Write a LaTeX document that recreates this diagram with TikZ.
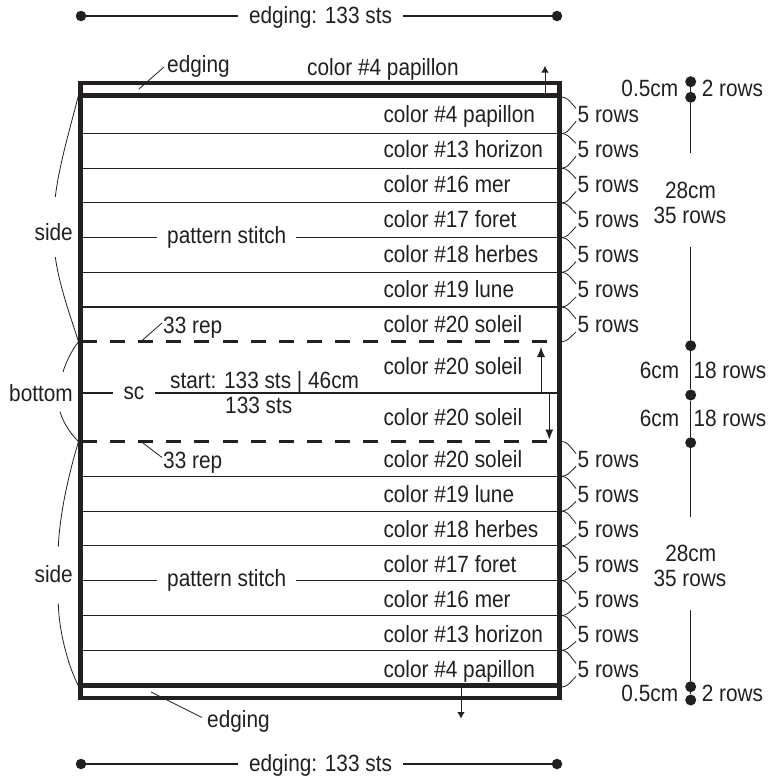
\documentclass[tikz,border=0pt]{standalone}
\usepackage{fontspec}
\setmainfont{Liberation Sans}[FakeStretch=0.885]
\usetikzlibrary{arrows.meta}
\definecolor{ink}{HTML}{231F20}
\begin{document}
\begin{tikzpicture}[x=1pt,y=-1pt,
  lab/.style={inner sep=0pt, font=\fontsize{23.5}{28}\selectfont, text=ink},
  rowline/.style={line width=1.1pt, draw=ink},
  fine/.style={line width=0.8pt, draw=ink},
  edgeline/.style={line width=4.5pt, draw=ink},
  dashline/.style={line width=2.5pt, draw=ink, dash pattern=on 15pt off 13.1pt},
  dimdot/.style={circle, fill=ink, inner sep=0pt, minimum size=11pt},
  bigtip/.style={-{Latex[length=10pt,width=8pt]}},
  smalltip/.style={-{Latex[length=6.5pt,width=7.5pt]}}]
\useasboundingbox (0,0) rectangle (768,782);

% ---------- top and bottom dimension lines ----------
\node[dimdot, minimum size=10.5pt] (dTL) at (81,16) {};
\node[dimdot, minimum size=10.5pt] (dTR) at (557,16) {};
\node[lab, anchor=base, inner xsep=11pt] (eTop) at (320.5,23.5) {edging: 133 sts};
\draw[rowline] (dTL) -- (dTL -| eTop.west);
\draw[rowline] (eTop.east |- dTR) -- (dTR);

\node[dimdot, minimum size=10.5pt] (dBL) at (81,764) {};
\node[dimdot, minimum size=10.5pt] (dBR) at (557,764) {};
\node[lab, anchor=base, inner xsep=11pt] (eBot) at (320.5,771.7) {edging: 133 sts};
\draw[rowline] (dBL) -- (dBL -| eBot.west);
\draw[rowline] (eBot.east |- dBR) -- (dBR);

% ---------- row lines ----------
\foreach \y in {133.5,168.2,202.9,237.6,272.3,307,476.3,511.1,545.9,580.7,615.5,650.3}
  \draw[rowline] (80.5,\y) -- (559.5,\y);
\draw[dashline] (82,341.7) -- (558,341.7);
\draw[dashline] (82,441.5) -- (558,441.5);
\draw[line width=2.2pt, draw=ink] (80.5,392.7) -- (559.5,392.7);

% ---------- frame ----------
\draw[edgeline, line join=miter] (80.5,83) rectangle (559.5,698);
\draw[edgeline] (80.5,95.3) -- (559.5,95.3);
\draw[edgeline] (80.5,685.5) -- (559.5,685.5);

% ---------- colour rows and 5-row brackets ----------
\foreach \a/\b/\bl/\t [count=\i] in {
  97/133.5/122.3/{color \#4 papillon},
  133.5/168.2/157.4/{color \#13 horizon},
  168.2/202.9/192.5/{color \#16 mer},
  202.9/237.6/227.6/{color \#17 foret},
  237.6/272.3/262.7/{color \#18 herbes},
  272.3/307/297.8/{color \#19 lune},
  307/341.7/332.9/{color \#20 soleil},
  441.5/476.3/467.5/{color \#20 soleil},
  476.3/511.1/502.5/{color \#19 lune},
  511.1/545.9/537.5/{color \#18 herbes},
  545.9/580.7/572.5/{color \#17 foret},
  580.7/615.5/607.5/{color \#16 mer},
  615.5/650.3/642.5/{color \#13 horizon},
  650.3/687/677.5/{color \#4 papillon}}
{
  \node[lab, anchor=base west] (col\i) at (383.3,\bl) {\t};
  \node[lab, anchor=base west] (rows\i) at (577.5,\bl) {5 rows};
  \coordinate (bt\i) at (562,\a);
  \coordinate (bb\i) at (562,\b);
  \draw[fine] (bt\i) .. controls (567,\a+1) .. (576,\bl-14);
  \draw[fine] (576,\bl-1) .. controls (567,\b-1) .. (bb\i);
}

% ---------- middle section ----------
\node[lab, anchor=base west] (mid1) at (383.3,374) {color \#20 soleil};
\node[lab, anchor=base west] (mid2) at (383.3,425) {color \#20 soleil};
\coordinate (upA) at (541,392.7);
\coordinate (upB) at (541,347);
\coordinate (dnA) at (549.3,392.7);
\coordinate (dnB) at (549.3,439.5);
\draw[fine, bigtip] (upA) -- (upB);
\draw[fine, bigtip] (dnA) -- (dnB);
\node[lab, anchor=base west, fill=white, inner xsep=10.5pt, inner ysep=1.5pt] (sc) at (112.8,399.3) {sc};
\node[lab, anchor=base west] (start) at (170,388.3) {start: 133 sts | 46cm};
\node[lab, anchor=base west] (sts) at (225,413.3) {133 sts};

% ---------- top and bottom edging labels ----------
\node[lab, anchor=base west] (edgT) at (167,72) {edging};
\coordinate (edgTp) at (139,89);
\draw[fine] (edgTp) -- (164,67);
\node[lab, anchor=base west] (papT) at (307,75) {color \#4 papillon};
\coordinate (arTa) at (545,95.3);
\coordinate (arTb) at (545,66);
\draw[fine, smalltip] (arTa) -- (arTb);

\node[lab, anchor=base west] (edgB) at (207,727) {edging};
\coordinate (edgBp) at (151,692);
\draw[fine] (edgBp) -- (202,717.5);
\coordinate (arBa) at (461,685.5);
\coordinate (arBb) at (461,718.5);
\draw[fine, smalltip] (arBa) -- (arBb);

% ---------- left labels ----------
\node[lab, anchor=base west, fill=white, inner xsep=10pt, inner ysep=1pt] (psT) at (157,243.3) {pattern stitch};
\node[lab, anchor=base west, fill=white, inner xsep=10pt, inner ysep=1pt] (psB) at (157,586.7) {pattern stitch};
\node[lab, anchor=base east] (sideT) at (73,240) {side};
\node[lab, anchor=base east] (sideB) at (73,582.7) {side};
\node[lab, anchor=base east] (bot) at (73,401.7) {bottom};

\node[lab, anchor=base west] (repT) at (163,333.3) {33 rep};
\draw[fine] (142,340.5) -- (162,323);
\node[lab, anchor=base west] (repB) at (163,468.3) {33 rep};
\draw[fine] (143,443) -- (162,457.5);

% brackets
\draw[fine] (78.5,95.3) .. controls (71,125) and (59,165) .. (55.3,197);
\draw[fine] (55.3,257) .. controls (59,285) and (71,318) .. (78.5,341.7);
\draw[fine] (78.5,341.7) .. controls (72,350) and (66,362) .. (63,372);
\draw[fine] (60,411.7) .. controls (64,425) and (72,435) .. (78.5,441.5);
\draw[fine] (78.5,441.5) .. controls (70,470) and (60,510) .. (58.3,546.7);
\draw[fine] (58.3,603.3) .. controls (59,635) and (70,670) .. (78.5,686);

% ---------- right dimension column ----------
\node[dimdot] (r1) at (690.7,81.7) {};
\node[dimdot] (r2) at (690.7,97.3) {};
\node[dimdot] (r3) at (690.7,345.7) {};
\node[dimdot] (r4) at (690.7,395) {};
\node[dimdot] (r5) at (690.7,442.7) {};
\node[dimdot] (r6) at (690.7,686.7) {};
\node[dimdot] (r7) at (690.7,700) {};
\coordinate (g1) at (690.7,153);
\coordinate (g2) at (690.7,247);
\coordinate (g3) at (690.7,516.7);
\coordinate (g4) at (690.7,610);
\draw[rowline] (r1) -- (r2);
\draw[rowline] (r2) -- (g1);
\draw[rowline] (g2) -- (r3);
\draw[rowline] (r3) -- (r4);
\draw[rowline] (r4) -- (r5);
\draw[rowline] (r5) -- (g3);
\draw[rowline] (g4) -- (r6);
\draw[rowline] (r6) -- (r7);

\node[lab, anchor=base east] (cmT) at (678.3,96.7) {0.5cm};
\node[lab, anchor=base west] (rwT) at (701.7,96.7) {2 rows};
\node[lab, anchor=base] (c28T) at (690.5,198.3) {28cm};
\node[lab, anchor=base] (r35T) at (690,223.3) {35 rows};
\node[lab, anchor=base east] (c6a) at (679.3,378.3) {6cm};
\node[lab, anchor=base west] (r18a) at (693.3,378.3) {18 rows};
\node[lab, anchor=base east] (c6b) at (679.3,426.7) {6cm};
\node[lab, anchor=base west] (r18b) at (693.3,426.7) {18 rows};
\node[lab, anchor=base] (c28B) at (690.7,561.7) {28cm};
\node[lab, anchor=base] (r35B) at (690,586.7) {35 rows};
\node[lab, anchor=base east] (cmB) at (678.3,701.7) {0.5cm};
\node[lab, anchor=base west] (rwB) at (701.7,701.7) {2 rows};
\end{tikzpicture}
\end{document}
